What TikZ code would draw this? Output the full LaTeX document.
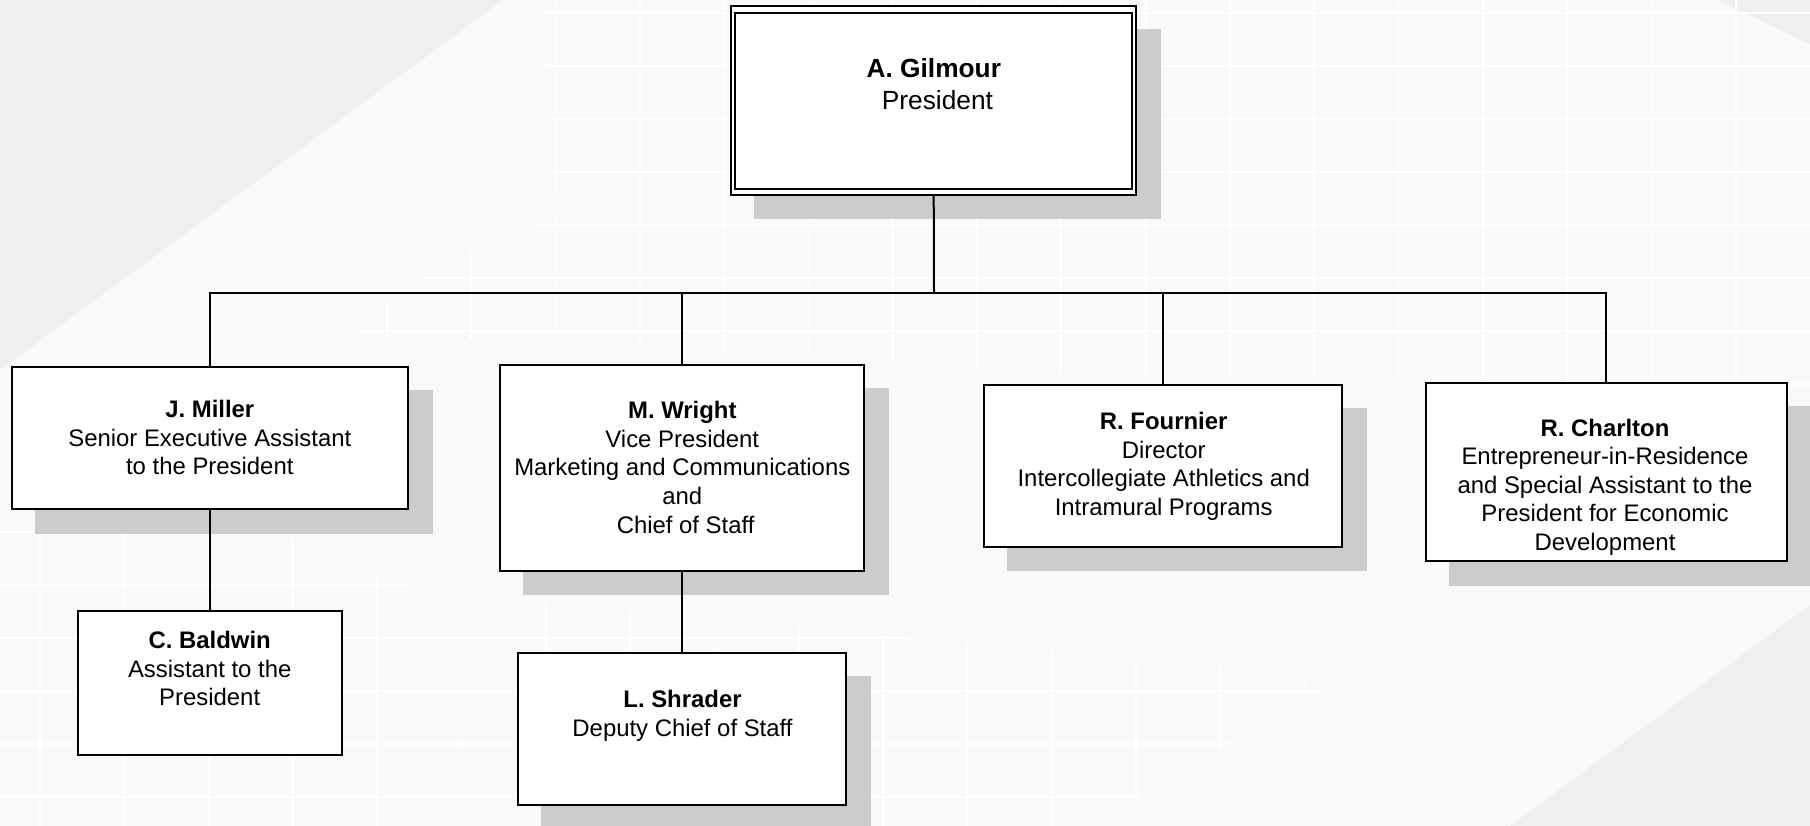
\documentclass[tikz,border=0pt]{standalone}
\usepackage{fontspec}
\setmainfont{Liberation Sans}
\definecolor{bgc}{HTML}{F9F9F9}
\definecolor{tric}{HTML}{EFEFEF}
\definecolor{shadowc}{HTML}{CCCCCC}
\pgfdeclarelayer{shadowlayer}
\pgfsetlayers{shadowlayer,main}
\tikzset{
  orgbox/.style={rectangle, draw=black, fill=white, line width=2pt, inner sep=0pt, outer sep=0pt},
  orgtext/.style={anchor=north, align=center, inner sep=0pt, outer sep=0pt, font=\fontsize{23.9}{28.6}\selectfont},
  toptext/.style={anchor=north, align=center, inner sep=0pt, outer sep=0pt, font=\fontsize{26.3}{32}\selectfont},
  link/.style={draw=black, line width=2pt},
  gridline/.style={draw=white, line width=1.8pt},
  boxshadow/.style={fill=shadowc},
}
\newcommand{\dropshadow}[1]{%
  \begin{pgfonlayer}{shadowlayer}
    \fill[boxshadow] ([shift={(23,23)}]#1.north west) rectangle ([shift={(24.5,24.5)}]#1.south east);
  \end{pgfonlayer}}
\begin{document}
\begin{tikzpicture}[x=1pt,y=-1pt]
\useasboundingbox (0,0) rectangle (1810,826);
\begin{pgfonlayer}{shadowlayer}
% background
\fill[bgc] (0,0) rectangle (1810,826);
\fill[tric] (0,0) -- (503,0) -- (0,370) -- cycle;
\fill[tric] (1810,605) -- (1810,826) -- (1510,826) -- cycle;
\fill[tric] (1717,0) -- (1810,0) -- (1810,44) -- cycle;
% faint grid, upper patch
\begin{scope}
\clip (540,0) -- (1810,0) -- (1810,430) -- (1490,380) -- (1000,372) -- (600,340) -- (346,340) -- (430,270) -- (557,215) -- cycle;
\foreach \k in {0,...,21} \draw[gridline] ({49.7+84.3*\k},0) -- ({49.7+84.3*\k},440);
\foreach \k in {0,...,8} \draw[gridline] (0,{12.7+53*\k}) -- (1810,{12.7+53*\k});
\end{scope}
% faint grid, lower patch
\begin{scope}
\clip (0,530) -- (270,530) -- (420,590) -- (1340,680) -- (1090,826) -- (0,826) -- cycle;
\foreach \k in {0,...,16} \draw[gridline] ({40+84.3*\k},520) -- ({40+84.3*\k},826);
\foreach \k in {0,...,5} \draw[gridline] (0,{532+53*\k}) -- (1810,{532+53*\k});
\end{scope}
\end{pgfonlayer}

% boxes
\node[orgbox, minimum width=404.7pt, minimum height=188.4pt] (gilmour) at (933.7,100.5) {};
\node[orgbox, minimum width=396.6pt, minimum height=142.3pt] (miller) at (210,437.9) {};
\node[orgbox, minimum width=264.6pt, minimum height=144.3pt] (baldwin) at (210,682.9) {};
\node[orgbox, minimum width=364.3pt, minimum height=205.7pt] (wright) at (681.9,467.9) {};
\node[orgbox, minimum width=328.3pt, minimum height=152pt] (shrader) at (681.9,728.7) {};
\node[orgbox, minimum width=358.3pt, minimum height=161.7pt] (fournier) at (1162.9,465.9) {};
\node[orgbox, minimum width=360.7pt, minimum height=178.3pt] (charlton) at (1606.4,471.9) {};

% inner line of the double frame
\draw[line width=2pt] ([shift={(4,6.4)}]gilmour.north west) rectangle ([shift={(-3.7,-5.4)}]gilmour.south east);

% shadows
\dropshadow{gilmour}
\dropshadow{miller}
\dropshadow{wright}
\dropshadow{shrader}
\dropshadow{fournier}
\dropshadow{charlton}

% connectors
\coordinate (bus) at (934,292.7);
\draw[link] (gilmour.south) -- (bus);
\draw[link] (miller.north) |- (bus) -| (charlton.north);
\draw[link] (wright.north) -- (wright.north |- bus);
\draw[link] (fournier.north) -- (fournier.north |- bus);
\draw[link] (miller.south) -- (baldwin.north);
\draw[link] (wright.south) -- (shrader.north);

% texts
\node[toptext] (t-gilmour) at (933.8,58.5) {\textbf{A. Gilmour}\\~President};
\node[orgtext] (t-miller) at (209.8,400.4) {\textbf{J. Miller}\\Senior Executive Assistant\\to the President};
\node[orgtext] (t-baldwin) at (209.7,631.4) {\textbf{C. Baldwin}\\Assistant to the\\President};
\node[orgtext] (t-wright) at (682.3,401.4) {\textbf{M. Wright}\\Vice President\\Marketing and Communications\\and\\~Chief of Staff};
\node[orgtext] (t-shrader) at (682.5,690.4) {\textbf{L. Shrader}\\Deputy Chief of Staff};
\node[orgtext] (t-fournier) at (1163.7,412.4) {\textbf{R. Fournier}\\Director\\Intercollegiate Athletics and\\Intramural Programs};
\node[orgtext] (t-charlton) at (1605,418.8) {\textbf{R. Charlton}\\Entrepreneur-in-Residence\\and Special Assistant to the\\President for Economic\\Development};
\end{tikzpicture}
\end{document}
